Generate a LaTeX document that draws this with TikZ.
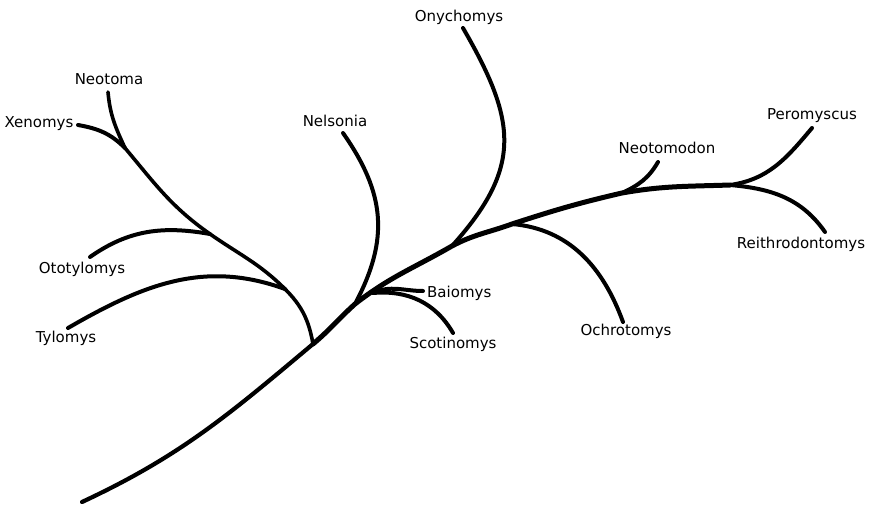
\documentclass[tikz,border=0pt]{standalone}
\usepackage{fontspec}
\setmainfont{DejaVu Sans}

\begin{document}
\begin{tikzpicture}[
    x=1pt, y=1pt,
    font=\fontsize{15}{18}\selectfont,
    trunk/.style={line width=5pt, line cap=round, draw=black},
    branch/.style={line width=4pt, line cap=round, draw=black},
    taxon/.style={anchor=base, inner sep=0pt}
  ]
  \useasboundingbox (0,0) rectangle (873,507);

  % forks along the trunk
  \coordinate (root) at (82,5);
  \coordinate (jL)   at (313,163);
  \coordinate (jN)   at (355,203);
  \coordinate (jB)   at (373,214);
  \coordinate (jO)   at (452,261);
  \coordinate (jOc)  at (512,283);
  \coordinate (jNd)  at (622,314);
  \coordinate (jP)   at (730,322);
  % forks of the left clade
  \coordinate (jT)   at (285,218);
  \coordinate (jOt)  at (210,273);
  \coordinate (jX)   at (125,359);

  % tips
  \coordinate (tNeotoma)  at (108,415);
  \coordinate (tXenomys)  at (78,382);
  \coordinate (tOtotyl)   at (90,250);
  \coordinate (tTylomys)  at (68,179);
  \coordinate (tNelsonia) at (343,374);
  \coordinate (tOnychomys) at (463,479);
  \coordinate (tBaiomys)  at (423,216);
  \coordinate (tScotin)   at (453,174);
  \coordinate (tOchro)    at (623,185);
  \coordinate (tNeotomod) at (658,345);
  \coordinate (tPeromys)  at (812,379);
  \coordinate (tReithro)  at (825,275);

  % labels
  \node[taxon] (neotoma)    at (109,422) {Neotoma};
  \node[taxon] (xenomys)    at (39,379)  {Xenomys};
  \node[taxon] (ototylomys) at (82,234)  {Ototylomys};
  \node[taxon] (tylomys)    at (66,165)  {Tylomys};
  \node[taxon] (nelsonia)   at (335,380) {Nelsonia};
  \node[taxon] (onychomys)  at (459,485) {Onychomys};
  \node[taxon, anchor=base west] (baiomys) at (427,210) {Baiomys};
  \node[taxon] (scotinomys) at (453,159) {Scotinomys};
  \node[taxon] (ochrotomys) at (626,172) {Ochrotomys};
  \node[taxon] (neotomodon) at (667,353) {Neotomodon};
  \node[taxon] (peromyscus) at (812,387) {Peromyscus};
  \node[taxon] (reithro)    at (801,259) {Reithrodontomys};

  % trunk
  \draw[trunk, line width=4.2pt] (root) to[out=25,in=220] (jL);
  \draw[trunk] (jL) to[out=40,in=222] (jN)
    to[out=38,in=210] (jO) to[out=28,in=200] (jOc)
    to[out=18,in=193] (jNd) to[out=10,in=182] (jP);

  % left clade
  \draw[branch, line width=3.6pt] (jL) to[out=100,in=-45] (jT) to[out=135,in=-35] (jOt)
    to[out=145,in=-50] (jX) to[out=115,in=-85] (tNeotoma);
  \draw[branch] (tXenomys) to[out=-10,in=135] (jX);
  \draw[branch] (jOt) to[out=170,in=35] (tOtotyl);
  \draw[branch] (jT) to[out=160,in=30] (tTylomys);

  % middle
  \draw[branch] (jN) to[out=62,in=-55,looseness=1.1] (tNelsonia);
  \draw[branch] (jO) to[out=48,in=-60,looseness=1.25] (tOnychomys);
  \draw[branch] (jB) to[out=25,in=180] (tBaiomys);
  \draw[branch] (jB) to[out=5,in=120] (tScotin);

  % right
  \draw[branch] (jOc) to[out=-5,in=110] (tOchro);
  \draw[branch] (jNd) to[out=25,in=240] (tNeotomod);
  \draw[branch] (jP) to[out=8,in=230] (tPeromys);
  \draw[branch] (jP) to[out=-5,in=125] (tReithro);
\end{tikzpicture}
\end{document}
